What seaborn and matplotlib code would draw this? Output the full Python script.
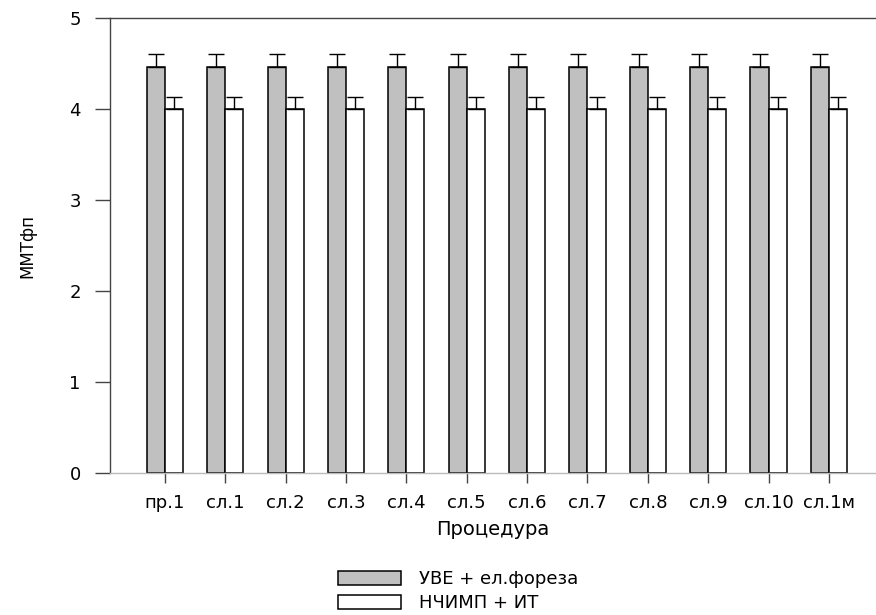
import matplotlib
matplotlib.use("Agg")
import matplotlib.pyplot as plt
import pandas as pd
import seaborn as sns

procedures = ["пр.1", "сл.1", "сл.2", "сл.3", "сл.4", "сл.5",
              "сл.6", "сл.7", "сл.8", "сл.9", "сл.10", "сл.1м"]
series = ["УВЕ + ел.фореза", "НЧИМП + ИТ"]
uve_mean = [4.46, 4.46, 4.46, 4.46, 4.46, 4.46, 4.46, 4.46, 4.46, 4.46, 4.46, 4.46]
uve_err = [0.14, 0.14, 0.14, 0.14, 0.14, 0.14, 0.14, 0.14, 0.14, 0.14, 0.14, 0.14]
nchimp_mean = [4.00, 4.00, 4.00, 4.00, 4.00, 4.00, 4.00, 4.00, 4.00, 4.00, 4.00, 4.00]
nchimp_err = [0.13, 0.13, 0.13, 0.13, 0.13, 0.13, 0.13, 0.13, 0.13, 0.13, 0.13, 0.13]


def main():
    sns.set_style("ticks")
    plt.rcParams["font.family"] = ["DejaVu Sans"]
    plt.rcParams["text.color"] = "black"
    plt.rcParams["axes.labelcolor"] = "black"
    plt.rcParams["xtick.labelcolor"] = "black"
    plt.rcParams["ytick.labelcolor"] = "black"

    df = pd.DataFrame({
        "Процедура": procedures * 2,
        "value": uve_mean + nchimp_mean,
        "group": [series[0]] * len(procedures) + [series[1]] * len(procedures),
    })
    errors = {series[0]: uve_err, series[1]: nchimp_err}

    fig = plt.figure(figsize=(8.76, 6.15), dpi=100)
    ax = fig.add_axes([110 / 876, 1 - 473 / 615, 1 - 110 / 876, (473 - 18) / 615])

    sns.barplot(
        data=df, x="Процедура", y="value", hue="group", hue_order=series,
        palette=["#C0C0C0", "#FFFFFF"], width=0.6, gap=0,
        edgecolor="black", linewidth=1.1, errorbar=None, ax=ax,
    )

    # one-sided (upper) error bars on each bar
    for container, name in zip(ax.containers, series):
        xs = [p.get_x() + p.get_width() / 2 for p in container]
        ys = [p.get_height() for p in container]
        errs = errors[name]
        ax.errorbar(xs, ys, yerr=[[0] * len(errs), errs], fmt="none",
                    ecolor="black", elinewidth=1.0, capsize=6, capthick=1.0,
                    zorder=1)

    handles, labels = ax.get_legend_handles_labels()
    ax.get_legend().remove()

    ax.set_ylim(0, 5)
    ax.set_xlim(-0.91, 11.78)
    ax.set_yticks([0, 1, 2, 3, 4, 5])
    ax.set_ylabel("ММТфп", fontsize=12, labelpad=24)
    ax.set_xlabel("Процедура", fontsize=14, labelpad=6)

    ax.tick_params(axis="y", length=11, width=1, color="#444444",
                   pad=10, labelsize=13)
    ax.tick_params(axis="x", length=7, width=1, color="#444444",
                   pad=8, labelsize=13)

    ax.spines["right"].set_visible(False)
    ax.spines["top"].set_visible(True)
    ax.spines["top"].set_color("#444444")
    ax.spines["left"].set_color("#444444")
    ax.spines["bottom"].set_color("#BBBBBB")
    for s in ax.spines.values():
        s.set_linewidth(1.0)

    fig.legend(
        handles, labels, loc="upper left",
        bbox_to_anchor=(338 / 876, 1 - 570 / 615),
        frameon=False, fontsize=13, handlelength=3.5, handleheight=0.85,
        handletextpad=1.0, labelspacing=0.36, borderpad=0, borderaxespad=0,
    )

    fig.savefig("out.png", dpi=100, facecolor="white")


if __name__ == "__main__":
    main()
